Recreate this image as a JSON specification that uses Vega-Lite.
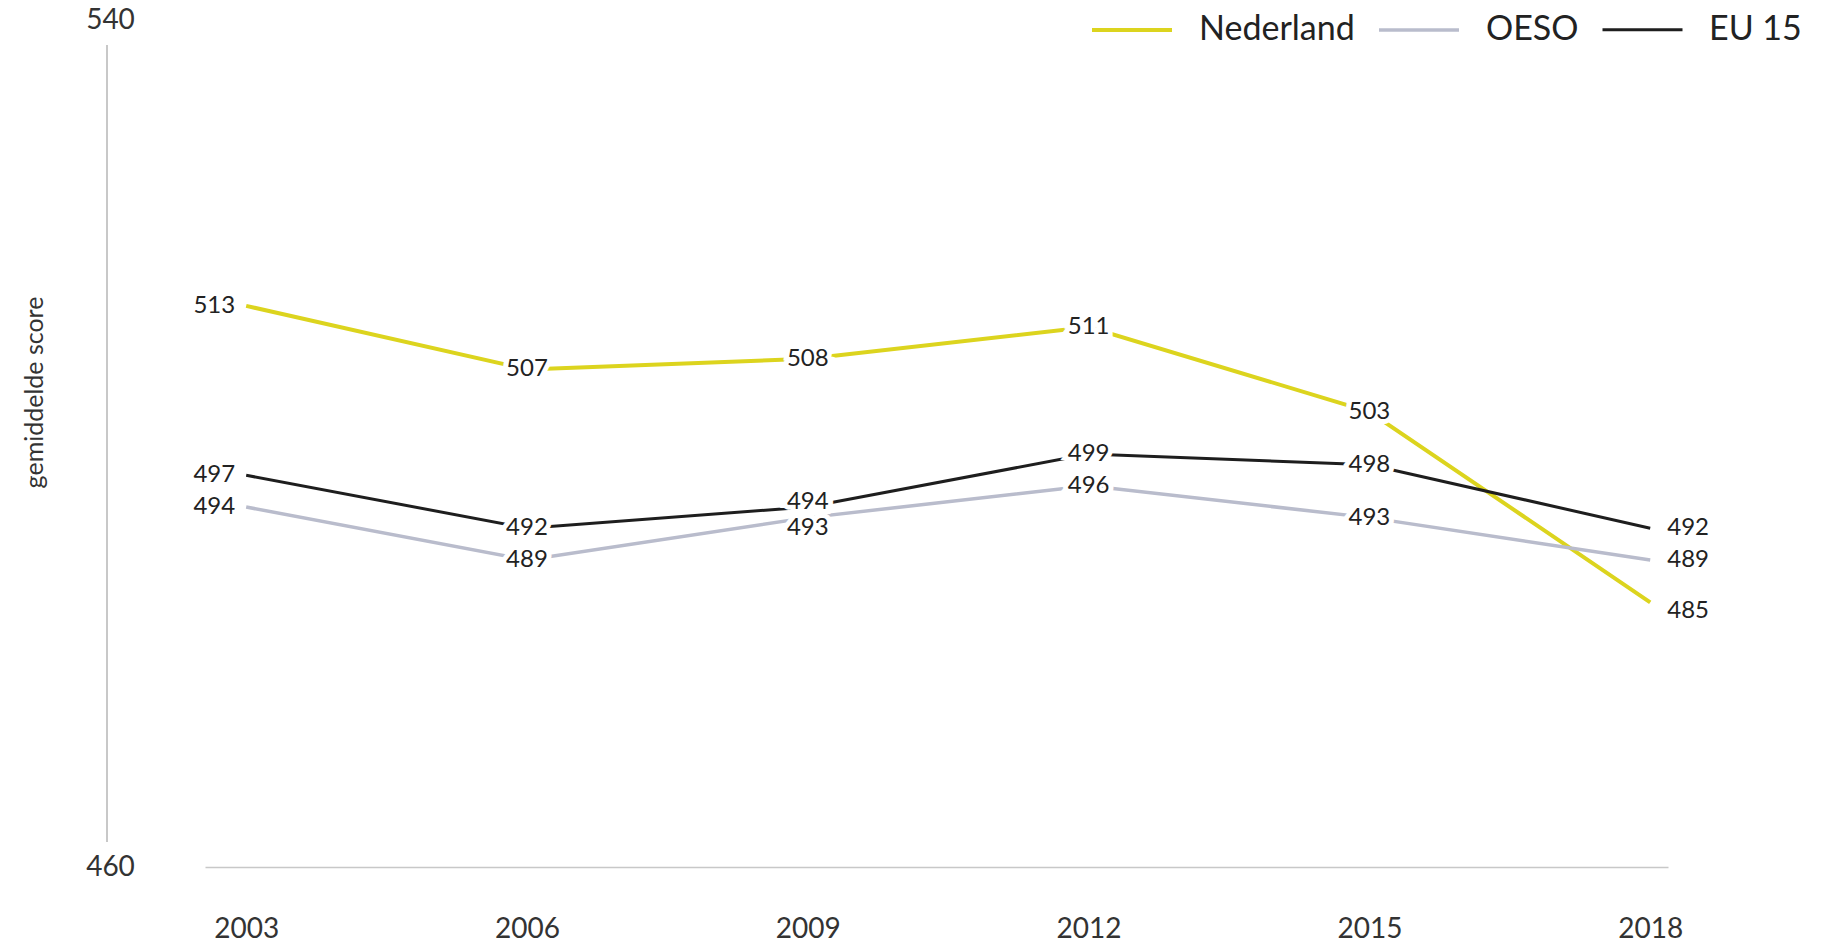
{
  "$schema": "https://vega.github.io/schema/vega-lite/v6.json",
  "width": 1463,
  "height": 847,
  "autosize": {"type": "none"},
  "padding": {"left": 205, "top": 20, "right": 163, "bottom": 77},
  "background": "white",
  "config": {"view": {"stroke": null}, "font": "Lato"},
  "data": {"values": [
    {"year": 2003, "series": "Nederland", "score": 513},
    {"year": 2006, "series": "Nederland", "score": 507},
    {"year": 2009, "series": "Nederland", "score": 508},
    {"year": 2012, "series": "Nederland", "score": 511},
    {"year": 2015, "series": "Nederland", "score": 503},
    {"year": 2018, "series": "Nederland", "score": 485},
    {"year": 2003, "series": "OESO", "score": 494},
    {"year": 2006, "series": "OESO", "score": 489},
    {"year": 2009, "series": "OESO", "score": 493},
    {"year": 2012, "series": "OESO", "score": 496},
    {"year": 2015, "series": "OESO", "score": 493},
    {"year": 2018, "series": "OESO", "score": 489},
    {"year": 2003, "series": "EU 15", "score": 497},
    {"year": 2006, "series": "EU 15", "score": 492},
    {"year": 2009, "series": "EU 15", "score": 494},
    {"year": 2012, "series": "EU 15", "score": 499},
    {"year": 2015, "series": "EU 15", "score": 498},
    {"year": 2018, "series": "EU 15", "score": 492}
  ]},
  "encoding": {
    "x": {"field": "year", "type": "quantitative",
      "scale": {"domain": [2002.56, 2018.19], "nice": false, "zero": false},
      "axis": {"values": [2003, 2006, 2009, 2012, 2015, 2018], "format": "d", "title": null,
        "grid": false, "ticks": false, "tickSize": 0, "domain": true, "domainColor": "#c8c8c8", "domainWidth": 1.5,
        "labelFont": "Lato", "labelFontSize": 28, "labelColor": "#333", "labelPadding": 62,
        "labelBaseline": "middle", "labelFlush": false, "labelOverlap": false}},
    "y": {"field": "score", "type": "quantitative",
      "scale": {"domain": [460, 540], "nice": false, "zero": false},
      "axis": {"values": [460, 540], "title": "gemiddelde score", "grid": false, "ticks": false, "tickSize": 0,
        "domain": false, "labelFont": "Lato", "labelFontSize": 28, "labelColor": "#333",
        "labelAlign": "center", "labelBaseline": "middle", "labelPadding": 95, "labelFlush": false, "labelOverlap": false,
        "titleFont": "Lato", "titleFontSize": 25, "titleFontWeight": "normal", "titleColor": "#333",
        "titleAngle": -90, "titleAlign": "center", "titleBaseline": "middle", "titleX": -171, "titleY": 372}}
  },
  "layer": [
    {
      "mark": {"type": "rule", "color": "#c8c8c8", "strokeWidth": 1.5},
      "encoding": {"x": {"datum": 2001.515}, "y": {"datum": 537.64}, "y2": {"datum": 462.36}}
    },
    {
      "mark": {"type": "line"},
      "encoding": {
        "color": {"field": "series", "type": "nominal",
          "scale": {"domain": ["Nederland", "OESO", "EU 15"], "range": ["#dcd41e", "#b9bccc", "#1e1e1e"]},
          "legend": {"orient": "none", "legendX": 885, "legendY": -32, "direction": "horizontal", "title": null,
            "symbolType": "stroke", "symbolSize": 6400, "symbolStrokeWidth": 5, "labelOffset": 25, "columnPadding": 17,
            "labelFont": "Lato", "labelFontSize": 34, "labelColor": "#222", "labelLimit": 400, "padding": 0}},
        "strokeWidth": {"field": "series", "type": "nominal",
          "scale": {"domain": ["Nederland", "OESO", "EU 15"], "range": [4, 3, 2.5]}, "legend": null}
      }
    },
    {
      "transform": [{"filter": "datum.year > 2003 && datum.year < 2018 && !(datum.year == 2009 && datum.series != 'Nederland')"}],
      "mark": {"type": "text", "color": "white", "stroke": "white", "strokeWidth": 10, "fontSize": 24, "font": "Lato", "align": "center", "baseline": "middle"},
      "encoding": {"text": {"field": "score"}}
    },
    {
      "transform": [{"filter": "datum.year == 2009 && datum.series == 'EU 15'"}],
      "mark": {"type": "text", "color": "white", "stroke": "white", "strokeWidth": 10, "fontSize": 24, "font": "Lato", "align": "center", "baseline": "middle", "dy": -5},
      "encoding": {"text": {"field": "score"}}
    },
    {
      "transform": [{"filter": "datum.year == 2009 && datum.series == 'OESO'"}],
      "mark": {"type": "text", "color": "white", "stroke": "white", "strokeWidth": 10, "fontSize": 24, "font": "Lato", "align": "center", "baseline": "middle", "dy": 10},
      "encoding": {"text": {"field": "score"}}
    },
    {
      "transform": [{"filter": "datum.year > 2003 && datum.year < 2018 && !(datum.year == 2009 && datum.series != 'Nederland')"}],
      "mark": {"type": "text", "color": "#222", "fontSize": 24, "font": "Lato", "align": "center", "baseline": "middle"},
      "encoding": {"text": {"field": "score"}}
    },
    {
      "transform": [{"filter": "datum.year == 2009 && datum.series == 'EU 15'"}],
      "mark": {"type": "text", "color": "#222", "fontSize": 24, "font": "Lato", "align": "center", "baseline": "middle", "dy": -5},
      "encoding": {"text": {"field": "score"}}
    },
    {
      "transform": [{"filter": "datum.year == 2009 && datum.series == 'OESO'"}],
      "mark": {"type": "text", "color": "#222", "fontSize": 24, "font": "Lato", "align": "center", "baseline": "middle", "dy": 10},
      "encoding": {"text": {"field": "score"}}
    },
    {
      "transform": [{"filter": "datum.year == 2003"}],
      "mark": {"type": "text", "color": "#222", "fontSize": 24, "font": "Lato", "align": "right", "baseline": "middle", "dx": -11},
      "encoding": {"text": {"field": "score"}}
    },
    {
      "transform": [{"filter": "datum.year == 2018 && datum.series != 'Nederland'"}],
      "mark": {"type": "text", "color": "#222", "fontSize": 24, "font": "Lato", "align": "left", "baseline": "middle", "dx": 17},
      "encoding": {"text": {"field": "score"}}
    },
    {
      "transform": [{"filter": "datum.year == 2018 && datum.series == 'Nederland'"}],
      "mark": {"type": "text", "color": "#222", "fontSize": 24, "font": "Lato", "align": "left", "baseline": "middle", "dx": 17, "dy": 9},
      "encoding": {"text": {"field": "score"}}
    }
  ]
}
